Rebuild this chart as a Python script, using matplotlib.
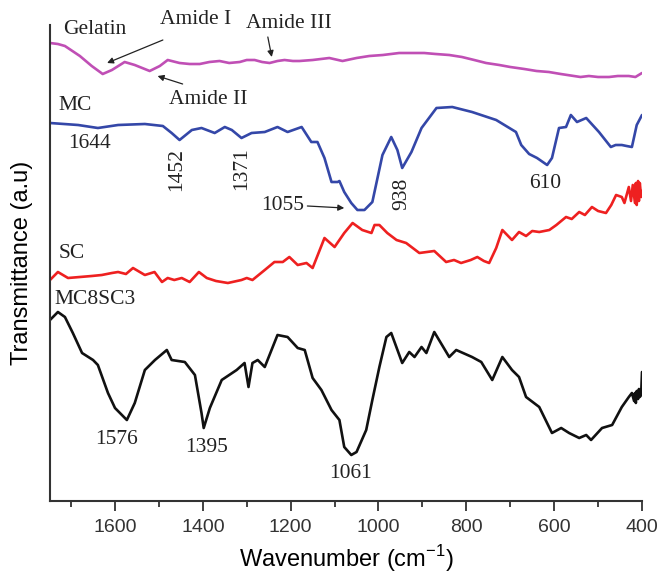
import matplotlib
matplotlib.use("Agg")
import matplotlib.pyplot as plt

# ---- data (wavenumber cm^-1, transmittance a.u. with offsets) ----
gel_w = [1748, 1730, 1714, 1680, 1653, 1628, 1607, 1578, 1555, 1521, 1498, 1480, 1453, 1430, 1407,
         1385, 1362, 1340, 1316, 1300, 1282, 1265, 1248, 1230, 1214, 1195, 1180, 1150, 1112, 1082,
         1050, 1021, 990, 953, 925, 896, 870, 839, 810, 782, 755, 725, 700, 668, 640, 612, 585,
         555, 540, 521, 500, 475, 455, 430, 415, 400]
gel_t = [458, 457, 455, 445, 435, 427, 431, 439, 436, 430, 435, 441, 438, 437, 437,
         439, 440, 438, 439, 441, 441, 439, 438, 440, 441, 440, 440, 441, 443, 440,
         443, 445, 446, 448, 448, 448, 447, 446, 444, 441, 438, 436, 434, 432, 430, 429, 427,
         425, 424, 425, 424, 424, 425, 425, 424, 428]

mc_w = [1748, 1684, 1639, 1593, 1532, 1491, 1471, 1453, 1425, 1403, 1373, 1350, 1334, 1312,
        1289, 1259, 1230, 1207, 1175, 1153, 1139, 1123, 1107, 1093, 1089, 1078, 1062, 1048,
        1032, 1014, 991, 971, 957, 946, 925, 902, 868, 832, 787, 732, 687, 675, 657, 639,
        616, 605, 589, 573, 562, 548, 527, 498, 471, 460, 446, 435, 423, 412, 400]
mc_t = [378, 376, 373, 376, 377, 375, 368, 361, 371, 373, 368, 374, 371, 363,
        368, 369, 374, 369, 374, 359, 359, 343, 319, 319, 320, 309, 298, 291,
        291, 299, 346, 364, 351, 333, 349, 373, 393, 394, 389, 381, 369, 356, 347, 343,
        336, 343, 373, 374, 386, 379, 383, 369, 354, 356, 356, 355, 354, 376, 386]

sc_w = [1748, 1730, 1707, 1680, 1653, 1630, 1607, 1593, 1575, 1559, 1532, 1510, 1493, 1480, 1465,
        1448, 1430, 1409, 1391, 1370, 1343, 1312, 1300, 1287, 1259, 1237, 1218, 1203, 1184,
        1164, 1150, 1123, 1100, 1078, 1059, 1037, 1016, 1009, 998, 980, 959, 937, 907, 873,
        846, 828, 812, 790, 775, 760, 748, 732, 718, 696, 680, 664, 650, 634, 611, 595, 573,
        560, 543, 530, 514, 500, 482, 470, 459, 446, 440, 430, 425, 421, 416, 414, 412,
        409, 407, 405, 402, 400]
sc_t = [221, 229, 223, 224, 225, 226, 228, 229, 227, 233, 226, 229, 219, 223, 221,
        223, 219, 229, 223, 220, 218, 221, 223, 221, 231, 239, 239, 244, 236,
        238, 233, 263, 254, 268, 278, 271, 268, 276, 276, 268, 261, 258, 248, 250,
        239, 241, 238, 241, 244, 240, 238, 253, 271, 261, 269, 265, 270, 269, 271, 276, 284,
        282, 289, 286, 294, 290, 288, 296, 306, 304, 298, 314, 300, 316, 298, 318, 296,
        320, 300, 318, 304, 310]

mix_w = [1748, 1730, 1714, 1696, 1675, 1650, 1639, 1616, 1600, 1573, 1555, 1532, 1509, 1482,
         1471, 1441, 1418, 1403, 1398, 1384, 1357, 1323, 1305, 1296, 1287, 1275, 1259, 1230,
         1207, 1184, 1168, 1150, 1130, 1107, 1089, 1078, 1062, 1050, 1028, 1014, 998, 982,
         971, 946, 930, 918, 902, 891, 873, 839, 823, 787, 766, 741, 718, 696, 680, 664, 634,
         605, 584, 566, 543, 527, 516, 491, 468, 446, 430, 423, 418, 416, 414, 412, 409, 407,
         405, 402, 400]
mix_t = [181, 189, 184, 168, 148, 141, 136, 108, 93, 81, 98, 131, 141, 151,
         141, 139, 126, 88, 73, 93, 121, 131, 138, 114, 138, 141, 134, 166,
         164, 153, 151, 123, 111, 91, 81, 54, 46, 49, 71, 101, 134, 164,
         168, 138, 149, 144, 154, 148, 169, 144, 151, 144, 139, 121, 144, 131, 124, 104, 94,
         68, 73, 68, 63, 66, 61, 73, 76, 94, 104, 108, 100, 108, 98, 110, 102, 112,
         104, 106, 129]

xticks = [1600, 1400, 1200, 1000, 800, 600, 400]
minor_ticks = [1700, 1500, 1300, 1100, 900, 700, 500]

# ---- figure ----
fig = plt.figure(figsize=(6.72, 5.77), dpi=100)
ax = fig.add_axes([50/672, 76/577, 592/672, 476/577])

lw = 1.9
kw = dict(lw=lw, solid_joinstyle="round", solid_capstyle="round")
ax.plot(gel_w, gel_t, color="#C04FB5", **kw)
ax.plot(mc_w, mc_t, color="#3447A8", **kw)
ax.plot(sc_w, sc_t, color="#EE2020", **kw)
ax.plot(mix_w, mix_t, color="#111111", **kw)

ax.set_xlim(1748, 400)
ax.set_ylim(0, 476)
ax.set_yticks([])
ax.set_xticks(xticks)
ax.set_xticks(minor_ticks, minor=True)
for s in ["top", "right"]:
    ax.spines[s].set_visible(False)
for s in ["left", "bottom"]:
    ax.spines[s].set_linewidth(1.5)
    ax.spines[s].set_color("#333333")
ax.tick_params(axis="x", which="major", direction="out", length=7, width=1.3,
               labelsize=14, pad=6, colors="#333333")
ax.tick_params(axis="x", which="minor", direction="out", length=4, width=1.3, colors="#333333")
for lab in ax.get_xticklabels():
    lab.set_fontfamily("Liberation Sans")

ax.set_xlabel("Wavenumber (cm$^{\\mathregular{-1}}$)", fontsize=17, family="Liberation Sans",
              labelpad=5)
ax.set_ylabel("Transmittance (a.u)", fontsize=17, family="Liberation Sans", labelpad=12)

serif = dict(family="Liberation Serif", fontsize=15.5, color="#222222",
             ha="center", va="center")
ax.text(1646, 471, "Gelatin", **serif)
ax.text(1416, 481, "Amide I", **serif)
ax.text(1203, 478, "Amide III", **serif)
ax.text(1387, 402, "Amide II", **serif)
ax.text(1691, 395, "MC", **serif)
ax.text(1659, 357, "1644", **serif)
ax.text(1459, 331, "1452", rotation=90, **serif)
ax.text(1312, 332, "1371", rotation=90, **serif)
ax.text(946, 307, "938", rotation=90, **serif)
ax.text(621, 317, "610", **serif)
ax.text(1218, 295, "1055", **serif)
ax.text(1698, 247, "SC", **serif)
ax.text(1646, 201, "MC8SC3", **serif)
ax.text(1596, 61, "1576", **serif)
ax.text(1391, 53, "1395", **serif)
ax.text(1064, 28, "1061", **serif)

arr = dict(arrowstyle="-|>", color="#222222", lw=0.9, mutation_scale=9,
           shrinkA=0, shrinkB=0)
ax.annotate("", xy=(1618, 438), xytext=(1491, 461), arrowprops=arr, annotation_clip=False)
ax.annotate("", xy=(1243, 444), xytext=(1252, 464), arrowprops=arr, annotation_clip=False)
ax.annotate("", xy=(1503, 425), xytext=(1446, 417), arrowprops=arr)
ax.annotate("", xy=(1078, 293), xytext=(1162, 295), arrowprops=arr)

fig.savefig("out.png", dpi=100)
